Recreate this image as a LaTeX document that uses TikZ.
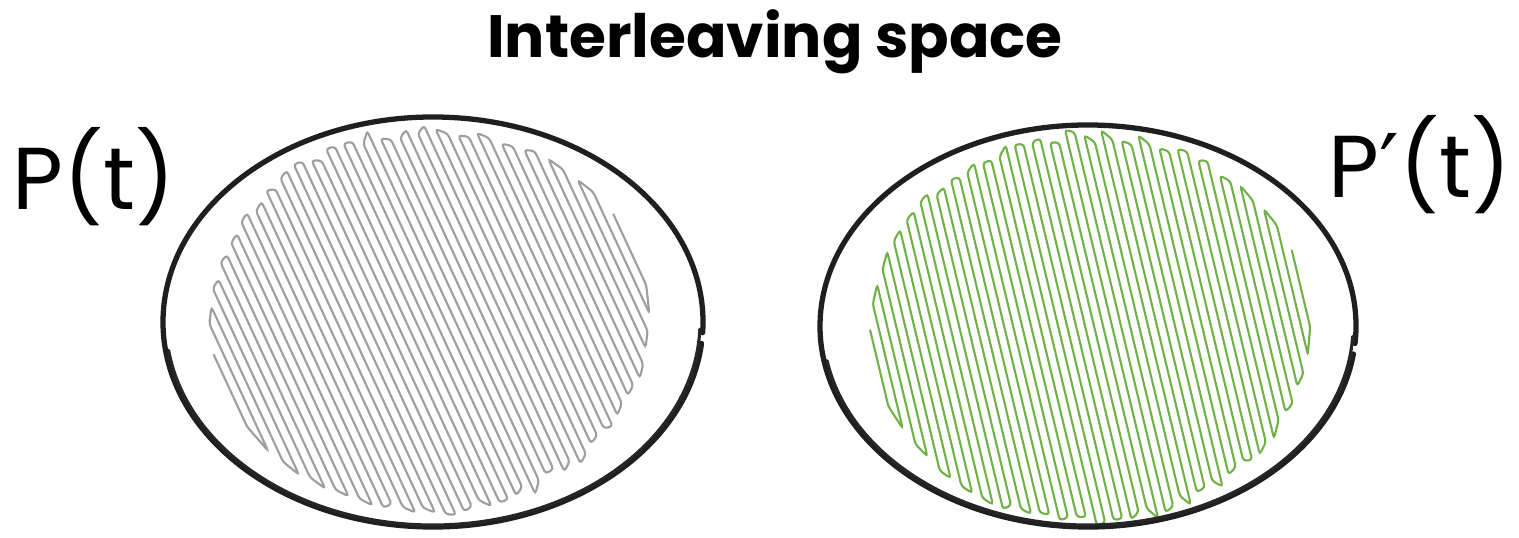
\documentclass[tikz,border=0pt]{standalone}
\usepackage{fontspec}
\setmainfont{Poppins}
\newfontfamily\primefont{DejaVu Sans}
\definecolor{hatchgreen}{RGB}{112,178,72}
\tikzset{
  rim/.style={draw=black!88, line width=1.5pt, line cap=round},
  rimthin/.style={draw=black!85, line width=0.9pt, line cap=round},
  hatchgray/.style={draw=black!38, line width=0.6pt, rounded corners=0.9pt},
  hatchgrn/.style={draw=hatchgreen, line width=0.6pt, rounded corners=0.9pt},
  label/.style={font=\fontsize{25}{28}\selectfont, inner sep=0pt}
}
\pgfmathsetseed{11}
% zigzag fill of the unit circle, strokes at angle #1, #2 strokes
\newcommand{\hatch}[3]{%
  \pgfmathsetmacro{\hu}{-1+1/#2}%
  \pgfmathsetmacro{\hh}{sqrt(1-\hu*\hu)}%
  \pgfmathtruncatemacro{\hlast}{#2-1}%
  \draw[#3] ({-(\hu)*sin(#1)-(\hh)*cos(#1)},{(\hu)*cos(#1)-(\hh)*sin(#1)})
    \foreach \k [evaluate=\k as \u using {-1+(2*\k+1)/#2},
                 evaluate=\k as \h using {sqrt(1-\u*\u)*(0.95+0.08*rnd)},
                 evaluate=\k as \s using {1-2*mod(\k,2)}] in {0,...,\hlast}
    { -- ({-(\u)*sin(#1)-(\s)*(\h)*cos(#1)},{(\u)*cos(#1)-(\s)*(\h)*sin(#1)})
      -- ({-(\u)*sin(#1)+(\s)*(\h)*cos(#1)},{(\u)*cos(#1)+(\s)*(\h)*sin(#1)}) };%
}
\begin{document}
\begin{tikzpicture}
\useasboundingbox (0,0) rectangle (15.19,5.37);

\node[font=\fontsize{17}{20}\selectfont\bfseries] (title) at (7.75,4.95) {Interleaving space};

\coordinate (lc) at (4.33,2.15);
\coordinate (rc) at (10.88,2.11);

% left set
\begin{scope}[shift={(4.30,2.17)}, xscale=2.20, yscale=1.92]
\hatch{-68}{48}{hatchgray}
\end{scope}
\draw[rim] (lc) ++(-3:2.70 and 2.05) arc[start angle=-3, end angle=354, x radius=2.70, y radius=2.05];
\draw[rimthin] (lc) ++(188:2.67 and 2.03) arc[start angle=188, end angle=358, x radius=2.67, y radius=2.03];

% right set
\begin{scope}[shift={(10.90,2.09)}, xscale=2.20, yscale=1.95]
\hatch{-78}{50}{hatchgrn}
\end{scope}
\draw[rim] (rc) ++(-5:2.68 and 2.01) arc[start angle=-5, end angle=352, x radius=2.68, y radius=2.01];
\draw[rimthin] (rc) ++(190:2.65 and 1.99) arc[start angle=190, end angle=357, x radius=2.65, y radius=1.99];

\node[label] (lblP) at (0.94,3.60) {P(t)};
\node[label] (lblPp) at (14.20,3.72) {P{\primefont ′}(t)};
\end{tikzpicture}
\end{document}
